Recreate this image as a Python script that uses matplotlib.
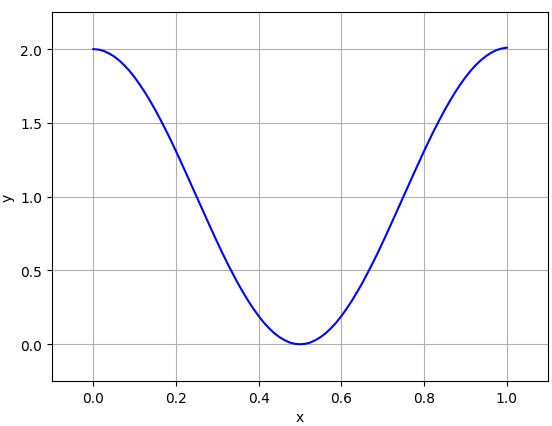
import matplotlib
matplotlib.use("Agg")
import matplotlib.pyplot as plt

# values
x_vals = [0.0, 0.0125, 0.025, 0.0375, 0.05, 0.0625, 0.075, 0.0875, 0.1, 0.1125,
          0.125, 0.1375, 0.15, 0.1625, 0.175, 0.1875, 0.2, 0.2125, 0.225, 0.2375,
          0.25, 0.2625, 0.275, 0.2875, 0.3, 0.3125, 0.325, 0.3375, 0.35, 0.3625,
          0.375, 0.3875, 0.4, 0.4125, 0.425, 0.4375, 0.45, 0.4625, 0.475, 0.4875,
          0.5, 0.5125, 0.525, 0.5375, 0.55, 0.5625, 0.575, 0.5875, 0.6, 0.6125,
          0.625, 0.6375, 0.65, 0.6625, 0.675, 0.6875, 0.7, 0.7125, 0.725, 0.7375,
          0.75, 0.7625, 0.775, 0.7875, 0.8, 0.8125, 0.825, 0.8375, 0.85, 0.8625,
          0.875, 0.8875, 0.9, 0.9125, 0.925, 0.9375, 0.95, 0.9625, 0.975, 0.9875,
          1.0]
y_vals = [2.000, 1.997, 1.988, 1.972, 1.951, 1.924, 1.891, 1.853, 1.809, 1.760,
          1.707, 1.649, 1.588, 1.522, 1.454, 1.383, 1.309, 1.233, 1.156, 1.078,
          1.000, 0.922, 0.844, 0.767, 0.691, 0.617, 0.546, 0.478, 0.412, 0.351,
          0.293, 0.240, 0.191, 0.147, 0.109, 0.076, 0.049, 0.028, 0.012, 0.003,
          0.000, 0.003, 0.012, 0.028, 0.049, 0.076, 0.109, 0.147, 0.191, 0.240,
          0.293, 0.351, 0.412, 0.478, 0.546, 0.617, 0.691, 0.767, 0.844, 0.922,
          1.000, 1.078, 1.156, 1.233, 1.309, 1.383, 1.454, 1.522, 1.588, 1.649,
          1.707, 1.760, 1.809, 1.853, 1.892, 1.925, 1.953, 1.976, 1.993, 2.004,
          2.010]

fig, ax = plt.subplots(figsize=(5.52, 4.27), dpi=100)
fig.subplots_adjust(left=0.094, right=0.993, top=0.969, bottom=0.105)

ax.plot(x_vals, y_vals, color="blue")
ax.set_xlim(-0.1, 1.1)
ax.set_ylim(-0.25, 2.25)
ax.set_xlabel("x")
ax.set_ylabel("y")
ax.grid(True)

fig.savefig("out.png", dpi=100)
